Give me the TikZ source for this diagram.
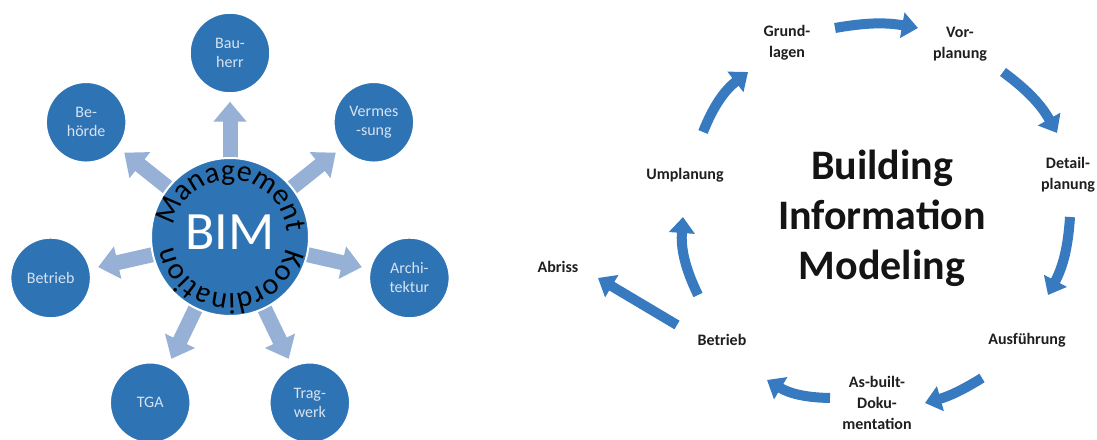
\documentclass[tikz,border=0pt]{standalone}
\usepackage{fontspec}
\setmainfont{Carlito}
\usetikzlibrary{arrows.meta,decorations.text,backgrounds}
\definecolor{bimblue}{RGB}{46,116,181}
\definecolor{cycblue}{RGB}{55,122,192}
\definecolor{arrowlight}{RGB}{150,176,214}
\definecolor{sattext}{RGB}{215,226,240}
\begin{document}
\begin{tikzpicture}[x=1pt,y=1pt,
  sat/.style={circle, fill=bimblue, draw=white, line width=1.5pt, minimum size=80pt, inner sep=0pt, text=sattext, font=\fontsize{16}{19}\selectfont, align=center},
  spoke/.style={draw=arrowlight, line width=15pt, -{Triangle[width=32pt,length=20pt]}, shorten >=8pt},
  lbl/.style={font=\bfseries\fontsize{16}{21}\selectfont, align=center, text=black!88},
  cyc/.style={draw=cycblue, line width=10pt, -{Triangle[width=25pt,length=16pt]}},
  title/.style={font=\bfseries\fontsize{42}{50}\selectfont, align=center, text=black!92},
]
\useasboundingbox (0,0) rectangle (1097,439);
% ---------- left diagram ----------
\node[circle, fill=bimblue, draw=white, line width=2pt, minimum size=158pt, inner sep=0pt] (bim) at (230,202) {};
\node[text=white, font=\fontsize{54}{60}\selectfont] (bimtxt) at (230,207) {BIM};
\path[decorate, decoration={text along path, text align=center, text={|\fontsize{30}{32}\selectfont|Management}}]
  ([shift={(177:57)}]230,202) arc[start angle=177, end angle=-3, radius=57];
\path[decorate, decoration={text along path, text align=center, text={|\fontsize{30}{32}\selectfont|Koordination}}]
  ([shift={(-1:57)}]230,202) arc[start angle=-1, end angle=-181, radius=57];
\node[sat] (bauherr) at ([shift={(90:184)}]230,202) {Bau-\\herr};
\node[sat] (vermessung) at ([shift={(38.57:184)}]230,202) {Vermes\\-sung};
\node[sat] (architektur) at ([shift={(-12.86:184)}]230,202) {Archi-\\tektur};
\node[sat] (tragwerk) at ([shift={(-64.29:184)}]230,202) {Trag-\\werk};
\node[sat] (tga) at ([shift={(-115.71:184)}]230,202) {TGA};
\node[sat] (betriebL) at ([shift={(-167.14:184)}]230,202) {Betrieb};
\node[sat] (behoerde) at ([shift={(141.43:184)}]230,202) {Be-\\hörde};
\begin{scope}[on background layer]
  \fill[white] (0,0) rectangle (1097,439);
  \foreach \t in {bauherr,vermessung,architektur,tragwerk,tga,betriebL,behoerde}
    \draw[spoke] (bim.center) -- (\t);
\end{scope}
% ---------- right diagram ----------
\node[lbl] (grund) at (787,396) {Grund-\\lagen};
\node[lbl] (vor) at (960,395) {Vor-\\planung};
\node[lbl] (detail) at (1068,264) {Detail-\\planung};
\node[lbl] (ausf) at (1027,99) {Ausführung};
\node[lbl] (asbuilt) at (877,36) {As-built-\\Doku-\\mentation};
\node[lbl] (betriebR) at (722,99) {Betrieb};
\node[lbl] (umpl) at (685,264) {Umplanung};
\node[lbl] (abriss) at (558,172) {Abriss};
\node[title] (bimtitle) at (882,221) {Building\\Information\\Modeling};
\coordinate (a1s) at (703,307); \coordinate (a1e) at (748,367);
\coordinate (a2s) at (835,411); \coordinate (a2e) at (918,411);
\coordinate (a3s) at (1003,367); \coordinate (a3e) at (1057,306);
\coordinate (a4s) at (1070,222); \coordinate (a4e) at (1048,144);
\coordinate (a5s) at (982,61); \coordinate (a5e) at (925,36);
\coordinate (a6s) at (830,41); \coordinate (a6e) at (767,59);
\coordinate (a7s) at (698,144); \coordinate (a7e) at (683,222);
\coordinate (a8s) at (677,114); \coordinate (a8e) at (598,161);
\draw[cyc] (a1s) to[bend left=15] (a1e);
\draw[cyc] (a2s) to[bend left=10] (a2e);
\draw[cyc] (a3s) to[bend left=12] (a3e);
\draw[cyc] (a4s) to[bend left=12] (a4e);
\draw[cyc] (a5s) to[bend left=8] (a5e);
\draw[cyc] (a6s) to[bend left=15] (a6e);
\draw[cyc] (a7s) to[bend left=15] (a7e);
\draw[cyc] (a8s) -- (a8e);
\end{tikzpicture}
\end{document}
